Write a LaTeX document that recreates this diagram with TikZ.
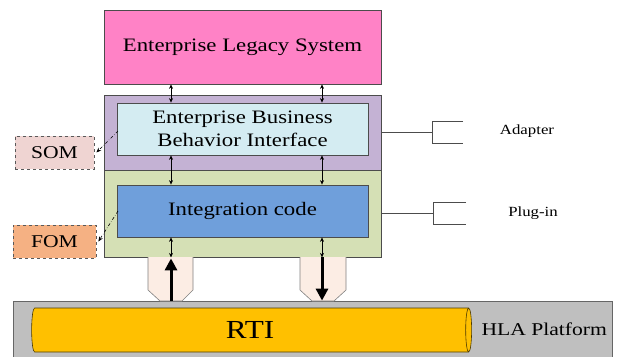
\documentclass[tikz,border=0pt]{standalone}
\usepackage{fontspec}
\setmainfont{Liberation Serif}[FakeStretch=1.2]
\usetikzlibrary{shapes.geometric,arrows.meta}

\definecolor{legacypink}{HTML}{FF82C6}
\definecolor{adapterlilac}{HTML}{C4B2D4}
\definecolor{behavblue}{HTML}{D4ECF2}
\definecolor{plugingreen}{HTML}{D5E0B5}
\definecolor{codeblue}{HTML}{6F9FDB}
\definecolor{sompink}{HTML}{EFD4D2}
\definecolor{fomorange}{HTML}{F5B183}
\definecolor{pegfill}{HTML}{FCEDE4}
\definecolor{rtiyellow}{HTML}{FFC000}

\begin{document}
\begin{tikzpicture}[
                x=1pt, y=-1pt,                % pixel grid, y downwards
                layer/.style={
                    rectangle,
                    draw=black!70,
                    line width=0.8pt,
                    inner sep=0pt,
                    font=\fontsize{19}{23}\selectfont
                },
                model/.style={layer, dashed, draw=black!65, font=\fontsize{18}{20}\selectfont},
                dbl/.style={{Stealth[length=4.5pt,width=4pt]}-{Stealth[length=4.5pt,width=4pt]}, line width=0.6pt},
                bigarrow/.style={-{Triangle[length=12pt,width=12pt]}, line width=3pt},
                dotarrow/.style={dash dot, -{Stealth[length=5pt,width=4pt]}, line width=0.6pt},
                bracket/.style={draw=black!70, line width=0.8pt},
                side/.style={font=\fontsize{14}{16}\selectfont}
            ]
                \useasboundingbox (0,0) rectangle (620,356);

                % main layers
                \node[layer, fill=legacypink, minimum width=277pt, minimum height=74pt] (legacy) at (242.5,47) {Enterprise Legacy System};
                \node[layer, fill=adapterlilac, minimum width=277pt, minimum height=75pt] (adapterbox) at (242.5,132.5) {};
                \node[layer, fill=behavblue, minimum width=251pt, minimum height=52pt, align=center] (ebbi) at (242.5,129) {Enterprise Business\\Behavior Interface};
                \node[layer, fill=plugingreen, minimum width=277pt, minimum height=87pt] (pluginbox) at (242.5,213.5) {};
                \node[layer, fill=codeblue, minimum width=251pt, minimum height=52pt] (intcode) at (242.5,211) {Integration code};

                % object models
                \node[model, fill=sompink, minimum width=79pt, minimum height=33pt] (som) at (54.5,152.5) {SOM};
                \node[model, fill=fomorange, minimum width=83pt, minimum height=33pt] (fom) at (54.5,241.5) {FOM};

                % platform with RTI
                \node[rectangle, draw=black!60, fill=black!25, line width=0.8pt,
                      minimum width=599pt, minimum height=56pt, inner sep=0pt] (platform) at (312.5,329) {};
                \node[cylinder, draw=black!70!rtiyellow, fill=rtiyellow, line width=0.6pt,
                      minimum width=44pt, minimum height=440pt, aspect=0.35, inner sep=0pt,
                      font=\fontsize{26}{28}\selectfont] (rti) at (250,330) {RTI};
                \node[side, font=\fontsize{18}{20}\selectfont, anchor=west] (hla) at (478,329) {HLA Platform};

                % column coordinates
                \coordinate (colL) at (171,0);
                \coordinate (colR) at (322,0);

                % pegs
                \draw[draw=black!50, fill=pegfill, line width=0.6pt]
                    (148,257) -- (148,290) -- (160,301) -- (182,301) -- (193,290) -- (193,257);
                \draw[draw=black!50, fill=pegfill, line width=0.6pt]
                    (300,257) -- (300,290) -- (312,301) -- (334,301) -- (346,290) -- (346,257);

                % double arrows between layers
                \draw[dbl] (legacy.south -| colL) -- (ebbi.north -| colL);
                \draw[dbl] (legacy.south -| colR) -- (ebbi.north -| colR);
                \draw[dbl] (ebbi.south -| colL) -- (intcode.north -| colL);
                \draw[dbl] (ebbi.south -| colR) -- (intcode.north -| colR);
                \draw[dbl] (intcode.south -| colL) -- (pluginbox.south -| colL);
                \draw[dbl] (intcode.south -| colR) -- (pluginbox.south -| colR);

                % RTI exchange
                \draw[bigarrow] (platform.north -| colL) -- ([yshift=-1pt]pluginbox.south -| colL);
                \draw[bigarrow] (pluginbox.south -| colR) -- (platform.north -| colR);

                % model links
                \coordinate (ebbiout) at (118,131);
                \coordinate (intout) at (118,211);
                \draw[dotarrow] (ebbiout) -- ([xshift=2pt]som.east);
                \draw[dotarrow] (intout) -- ([xshift=2pt]fom.east);

                % brackets
                \coordinate (adapterfork) at (432,132);
                \coordinate (pluginfork) at (433,213);
                \draw[bracket] (adapterbox.east |- adapterfork) -- (adapterfork);
                \draw[bracket] (463,121) -- (432,121) -- (432,143) -- (463,143);
                \draw[bracket] (pluginbox.east |- pluginfork) -- (pluginfork);
                \draw[bracket] (466,202) -- (433,202) -- (433,224) -- (466,224);
                \node[side] (adapter) at (527,131) {Adapter};
                \node[side] (plugin) at (533,213) {Plug-in};
            \end{tikzpicture}
\end{document}
